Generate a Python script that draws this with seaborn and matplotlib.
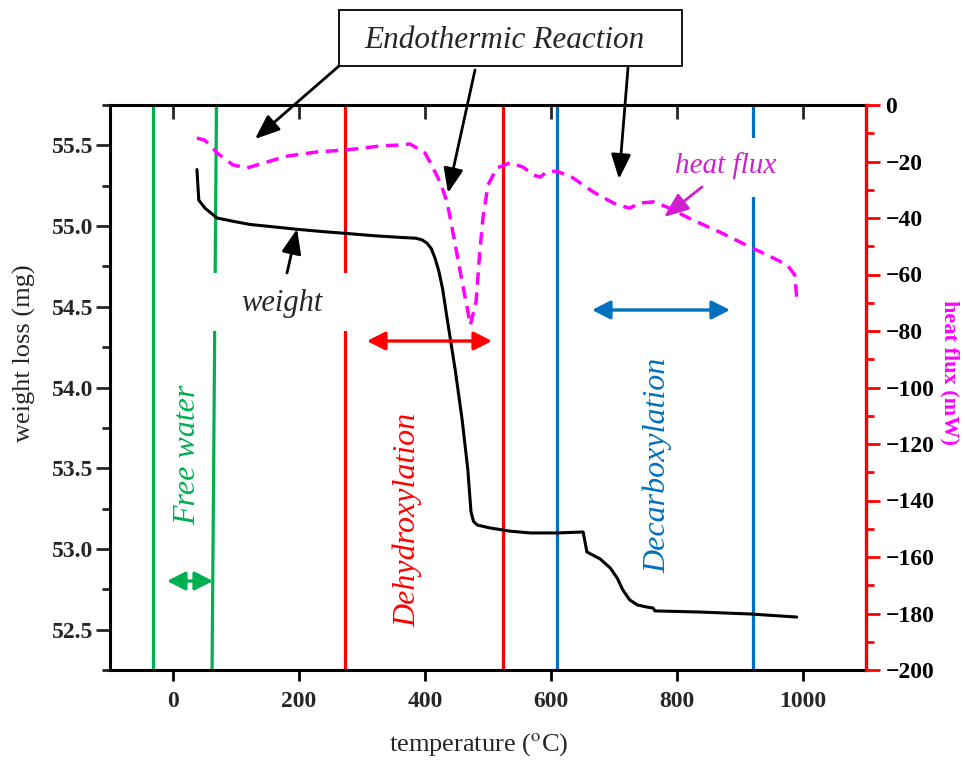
import numpy as np
import pandas as pd
import matplotlib
matplotlib.use("Agg")
import matplotlib.pyplot as plt
import seaborn as sns
from matplotlib.patches import Rectangle
from matplotlib.ticker import MultipleLocator, FormatStrFormatter

# ---------------- data ----------------
temp_weight = [38, 40, 41, 51, 70, 95, 122, 160, 197, 240, 273, 320, 360, 385, 395,
               403, 410, 416, 422, 428, 435, 448, 459, 468, 473, 477, 483, 503, 535,
               567, 610, 651, 657, 678, 694, 705, 714, 725, 737, 752, 762, 765, 837,
               916, 990]
weight_mg = [55.35, 55.22, 55.16, 55.11, 55.05, 55.03, 55.01, 54.995, 54.98, 54.965,
             54.955, 54.94, 54.93, 54.925, 54.915, 54.895, 54.86, 54.80, 54.72, 54.61,
             54.43, 54.108, 53.799, 53.49, 53.23, 53.17, 53.148, 53.13, 53.11, 53.099,
             53.099, 53.105, 52.981, 52.938, 52.882, 52.82, 52.746, 52.684, 52.653,
             52.64, 52.634, 52.616, 52.609, 52.597, 52.578]

temp_heat = [38, 50, 59, 70, 95, 117, 149, 181, 229, 276, 333, 360, 376, 387, 400,
             408, 424, 435, 443, 451, 459, 467, 472, 481, 487, 492, 500, 514, 535,
             556, 572, 583, 593, 609, 635, 667, 705, 725, 741, 762, 784, 825, 868,
             910, 943, 975, 987, 990]
heat_mw = [-11.7, -12.4, -14.2, -17.0, -21.2, -22.3, -20.2, -18.1, -16.6, -15.9,
           -14.4, -14.2, -13.8, -15.2, -17.0, -20.2, -27.3, -34.3, -43.5, -53.1,
           -62.7, -71.9, -77.9, -69.7, -52.0, -40.0, -28.3, -22.3, -20.5, -22.0,
           -24.8, -25.5, -23.7, -23.4, -25.8, -30.8, -35.4, -36.5, -34.7, -34.3,
           -36.1, -40.7, -45.0, -49.6, -53.1, -56.6, -60.2, -68.3]

free_water_bounds = [-32, 69]      # second line slants slightly to 62 at the bottom
free_water_bottom = 62
dehydrox_bounds = [273, 524]
decarbox_bounds = [610, 920]

x_ticks = [0, 200, 400, 600, 800, 1000]
left_ticks = [52.5, 53.0, 53.5, 54.0, 54.5, 55.0, 55.5]
right_ticks = list(range(-200, 1, 20))

GREEN = "#00B050"
RED = "#FF0000"
BLUE = "#0070C0"
MAG = "#FF00FF"
MAG_TXT = "#CC22CC"

df_w = pd.DataFrame({"temperature": temp_weight, "weight": weight_mg})
df_h = pd.DataFrame({"temperature": temp_heat, "heat": heat_mw})

# ---------------- style ----------------
sns.set_style("ticks")
plt.rcParams["font.family"] = ["Liberation Serif", "DejaVu Serif"]
plt.rcParams["mathtext.fontset"] = "stix"

W, H = 965, 760
fig = plt.figure(figsize=(W / 100, H / 100), dpi=100)
L, R, T, B = 110, 866, 105, 670
ax = fig.add_axes([L / W, 1 - B / H, (R - L) / W, (B - T) / H])
ax2 = ax.twinx()

# vertical boundary lines
lw_v = 2.3
ax.axvline(free_water_bounds[0], color=GREEN, lw=lw_v, zorder=1.5)
ax.plot([free_water_bounds[1], free_water_bottom], [55.75, 52.25], color=GREEN, lw=lw_v, zorder=1.5)
for xv in dehydrox_bounds:
    ax.axvline(xv, color=RED, lw=lw_v, zorder=1.5)
for xv in decarbox_bounds:
    ax.axvline(xv, color=BLUE, lw=lw_v, zorder=1.5)

# white boxes behind the labels
ax.add_patch(Rectangle(((205 - L) / (R - L), (B - 331) / (B - T)), 151 / (R - L), 58 / (B - T),
                       transform=ax.transAxes, facecolor="white", edgecolor="none", zorder=3))
ax.add_patch(Rectangle(((665 - L) / (R - L), (B - 197) / (B - T)), 125 / (R - L), 59 / (B - T),
                       transform=ax.transAxes, facecolor="white", edgecolor="none", zorder=3))

# curves
sns.lineplot(data=df_w, x="temperature", y="weight", ax=ax, color="black", lw=2.2,
             sort=False, estimator=None, zorder=4)
sns.lineplot(data=df_h, x="temperature", y="heat", ax=ax2, color=MAG, lw=2.5,
             sort=False, estimator=None, linestyle=(0, (3.6, 2.2)), zorder=4)

# axes limits & ticks
ax.set_xlim(-100, 1100)
ax.set_ylim(52.25, 55.75)
ax2.set_ylim(-200, 0)
ax.set_xticks(x_ticks)
ax.set_yticks(left_ticks)
ax.yaxis.set_minor_locator(MultipleLocator(0.25))
ax.yaxis.set_major_formatter(FormatStrFormatter("%.1f"))
ax2.set_yticks(right_ticks)
ax2.yaxis.set_minor_locator(MultipleLocator(10))

ax.tick_params(axis="x", which="major", direction="out", length=8, width=2, pad=7,
               labelsize=17, color="black")
ax.tick_params(axis="y", which="major", direction="out", length=10, width=2, pad=2,
               labelsize=17)
ax.tick_params(axis="y", which="minor", direction="out", length=6, width=2)
ax2.tick_params(axis="y", which="major", direction="out", length=10, width=2, pad=4,
                labelsize=17, color=RED, labelcolor="black")
ax2.tick_params(axis="y", which="minor", direction="out", length=6, width=2, color=RED)
for lab in ax.get_xticklabels() + ax.get_yticklabels() + ax2.get_yticklabels():
    lab.set_fontweight("bold")

secx = ax.secondary_xaxis("top")
secx.set_xticks(x_ticks)
secx.tick_params(direction="in", length=10, width=2, labeltop=False)
secx.spines["top"].set_visible(False)

for side in ["left", "bottom", "top"]:
    ax.spines[side].set_linewidth(2.2)
    ax.spines[side].set_color("black")
ax.spines["right"].set_visible(False)
for side in ["left", "bottom", "top"]:
    ax2.spines[side].set_visible(False)
ax2.spines["right"].set_color(RED)
ax2.spines["right"].set_linewidth(2.4)
ax.grid(False)
ax2.grid(False)

# axis labels
ax.set_xlabel("temperature ($^{\\rm o}$C)", fontsize=19)
ax.xaxis.label.set(va="center", ha="center")
ax.xaxis.set_label_coords((479 - L) / (R - L), (B - 745) / (B - T))
ax.set_ylabel("weight loss (mg)", fontsize=19)
ax.yaxis.label.set(va="center", ha="center", rotation_mode="default")
ax.yaxis.set_label_coords((24 - L) / (R - L), (B - 353) / (B - T))
ax2.set_ylabel("heat flux (mW)", fontsize=16, fontweight="bold", color=MAG, rotation=270)
ax2.yaxis.label.set(va="center", ha="center", rotation_mode="default")
ax2.yaxis.set_label_coords((950 - L) / (R - L), (B - 373) / (B - T))


def fp(px, py):
    """reference pixel position -> figure pixels"""
    return (px, H - py)


# Endothermic Reaction box
fig.patches.append(Rectangle((339 / W, 1 - 66 / H), 343 / W, 56 / H, transform=fig.transFigure,
                             facecolor="white", edgecolor="black", lw=1.3, zorder=5))
fig.text(504 / W, 1 - 40 / H, "Endothermic Reaction", fontsize=22.5, style="italic",
         ha="center", va="center", zorder=6)

arrow_k = dict(arrowstyle="-|>,head_length=0.75,head_width=0.3", mutation_scale=20,
               lw=2, color="black", shrinkA=0, shrinkB=0)
for start, tip in [((339, 66), (255, 139)), ((475, 70), (448, 193)), ((628, 68), (619, 179))]:
    ax2.annotate("", xy=fp(*tip), xytext=fp(*start), xycoords="figure pixels",
                 textcoords="figure pixels", arrowprops=arrow_k, annotation_clip=False)

# weight label
ax2.text((282 - L) / (R - L), (B - 303) / (B - T), "weight", transform=ax2.transAxes,
         fontsize=22, style="italic", ha="center", va="center", zorder=6)
ax2.annotate("", xy=fp(297, 229), xytext=fp(287, 273), xycoords="figure pixels",
             textcoords="figure pixels", arrowprops=arrow_k, annotation_clip=False)

# heat flux label
ax2.text((726 - L) / (R - L), (B - 166) / (B - T), "heat flux", transform=ax2.transAxes,
         fontsize=21, style="italic", color=MAG_TXT, ha="center", va="center", zorder=6)
arrow_m = dict(arrow_k, color=MAG_TXT)
ax2.annotate("", xy=fp(664, 217), xytext=fp(702, 187), xycoords="figure pixels",
             textcoords="figure pixels", arrowprops=arrow_m, annotation_clip=False)

# region labels
ax2.text((188 - L) / (R - L), (B - 455) / (B - T), "Free water", transform=ax2.transAxes,
         fontsize=23, style="italic", color=GREEN, rotation=90, ha="center", va="center")
ax2.text((408 - L) / (R - L), (B - 520) / (B - T), "Dehydroxylation", transform=ax2.transAxes,
         fontsize=23, style="italic", color=RED, rotation=90, ha="center", va="center")
ax2.text((658 - L) / (R - L), (B - 465) / (B - T), "Decarboxylation", transform=ax2.transAxes,
         fontsize=23, style="italic", color=BLUE, rotation=90, ha="center", va="center")

# double arrows
for (x0, x1, y, c) in [(167, 213, 581, GREEN), (367, 492, 341, RED), (592, 730, 310, BLUE)]:
    ax2.annotate("", xy=fp(x1, y), xytext=fp(x0, y), xycoords="figure pixels",
                 textcoords="figure pixels",
                 arrowprops=dict(arrowstyle="<|-|>,head_length=0.55,head_width=0.28",
                                 mutation_scale=20, lw=2.4, color=c, shrinkA=0, shrinkB=0),
                 annotation_clip=False)

fig.savefig("out.png", dpi=100)
